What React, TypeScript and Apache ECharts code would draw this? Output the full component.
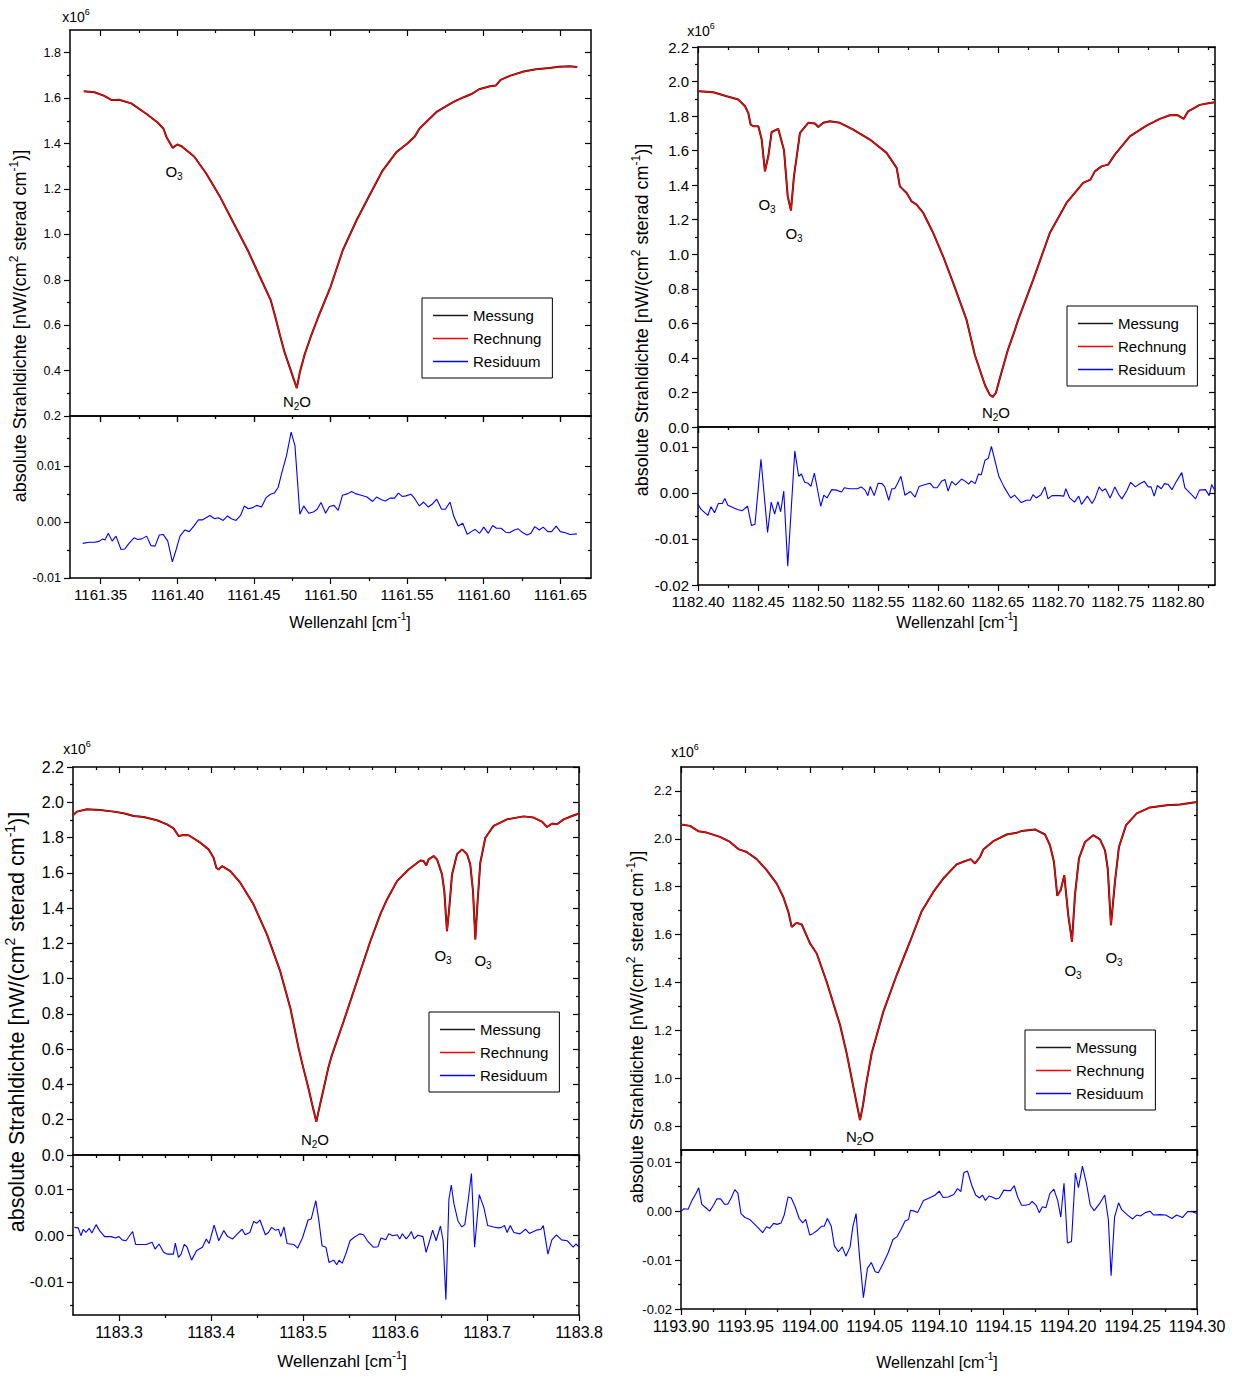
import React, { useEffect, useRef } from "react";
import * as echarts from "echarts";

const FONT = '"Liberation Sans", Arial, Helvetica, sans-serif';

// ---------------- data (x = Wellenzahl, y = value) ----------------
// Panel 1: 1161.33 - 1161.67 cm-1
const p1Spectrum: [number, number][] = [
  [1161.339, 1.630], [1161.346, 1.626], [1161.352, 1.611], [1161.357, 1.592], [1161.360, 1.592],
  [1161.362, 1.593], [1161.370, 1.577], [1161.380, 1.530], [1161.387, 1.494], [1161.391, 1.465],
  [1161.393, 1.428], [1161.397, 1.381], [1161.400, 1.396], [1161.403, 1.387], [1161.411, 1.343],
  [1161.419, 1.267], [1161.428, 1.164], [1161.437, 1.047], [1161.446, 0.930], [1161.454, 0.812],
  [1161.461, 0.710], [1161.464, 0.636], [1161.467, 0.556], [1161.470, 0.481], [1161.474, 0.402],
  [1161.478, 0.323], [1161.480, 0.393], [1161.483, 0.468], [1161.487, 0.547], [1161.492, 0.636],
  [1161.500, 0.768], [1161.508, 0.930], [1161.517, 1.062], [1161.526, 1.179], [1161.534, 1.281],
  [1161.543, 1.362], [1161.550, 1.399], [1161.555, 1.431], [1161.558, 1.465], [1161.569, 1.538],
  [1161.578, 1.575], [1161.582, 1.589], [1161.587, 1.604], [1161.592, 1.618], [1161.597, 1.639],
  [1161.604, 1.652], [1161.608, 1.656], [1161.611, 1.680], [1161.617, 1.698], [1161.626, 1.717],
  [1161.634, 1.727], [1161.643, 1.733], [1161.649, 1.738], [1161.656, 1.740], [1161.661, 1.737],
];
const p1Residual: [number, number][] = [
  [1161.3383, -0.0038], [1161.3425, -0.0036], [1161.3463, -0.0036], [1161.3493, -0.0034], [1161.3513, -0.0030],
  [1161.3528, -0.0032], [1161.3550, -0.0020], [1161.3575, -0.0034], [1161.3600, -0.0025], [1161.3633, -0.0049],
  [1161.3658, -0.0048], [1161.3688, -0.0037], [1161.3718, -0.0028], [1161.3743, -0.0031], [1161.3768, -0.0030],
  [1161.3800, -0.0025], [1161.3828, -0.0042], [1161.3855, -0.0043], [1161.3883, -0.0023], [1161.3908, -0.0022],
  [1161.3938, -0.0034], [1161.3968, -0.0071], [1161.3993, -0.0049], [1161.4018, -0.0025], [1161.4050, -0.0014],
  [1161.4078, -0.0017], [1161.4108, -0.0007], [1161.4138, 0.0004], [1161.4163, 0.0004], [1161.4213, 0.0012],
  [1161.4243, 0.0006], [1161.4268, 0.0008], [1161.4300, 0.0003], [1161.4328, 0.0011], [1161.4353, 0.0006],
  [1161.4383, 0.0003], [1161.4413, 0.0012], [1161.4438, 0.0029], [1161.4463, 0.0024], [1161.4493, 0.0026],
  [1161.4518, 0.0030], [1161.4550, 0.0027], [1161.4580, 0.0044], [1161.4608, 0.0050], [1161.4633, 0.0052],
  [1161.4658, 0.0062], [1161.4683, 0.0089], [1161.4713, 0.0119], [1161.4743, 0.0161], [1161.4768, 0.0137],
  [1161.4800, 0.0014], [1161.4825, 0.0029], [1161.4858, 0.0016], [1161.4888, 0.0018], [1161.4913, 0.0023],
  [1161.4938, 0.0035], [1161.4968, 0.0016], [1161.4993, 0.0028], [1161.5023, 0.0030], [1161.5050, 0.0021],
  [1161.5078, 0.0048], [1161.5113, 0.0051], [1161.5138, 0.0055], [1161.5163, 0.0051], [1161.5200, 0.0048],
  [1161.5238, 0.0045], [1161.5275, 0.0037], [1161.5300, 0.0045], [1161.5333, 0.0040], [1161.5358, 0.0038],
  [1161.5388, 0.0043], [1161.5418, 0.0043], [1161.5443, 0.0052], [1161.5468, 0.0046], [1161.5493, 0.0047],
  [1161.5525, 0.0050], [1161.5550, 0.0042], [1161.5580, 0.0029], [1161.5608, 0.0036], [1161.5638, 0.0027],
  [1161.5663, 0.0032], [1161.5693, 0.0041], [1161.5725, 0.0023], [1161.5750, 0.0023], [1161.5780, 0.0036],
  [1161.5805, 0.0010], [1161.5833, -0.0007], [1161.5863, -0.0002], [1161.5893, -0.0022], [1161.5918, -0.0017],
  [1161.5943, -0.0013], [1161.5973, -0.0020], [1161.6000, -0.0009], [1161.6030, -0.0020], [1161.6058, -0.0006],
  [1161.6083, -0.0011], [1161.6113, -0.0011], [1161.6143, -0.0018], [1161.6168, -0.0019], [1161.6200, -0.0014],
  [1161.6225, -0.0012], [1161.6250, -0.0018], [1161.6283, -0.0023], [1161.6308, -0.0020], [1161.6333, -0.0008],
  [1161.6363, -0.0014], [1161.6388, -0.0009], [1161.6418, -0.0017], [1161.6443, -0.0017], [1161.6473, -0.0007],
  [1161.6500, -0.0017], [1161.6533, -0.0019], [1161.6563, -0.0022], [1161.6608, -0.0021],
];

// Panel 2: 1182.40 - 1182.83 cm-1
const p2Spectrum: [number, number][] = [
  [1182.4003, 1.944], [1182.4128, 1.938], [1182.4239, 1.915], [1182.4336, 1.896], [1182.4392, 1.857],
  [1182.4419, 1.818], [1182.4439, 1.751], [1182.4461, 1.741], [1182.4503, 1.741], [1182.4531, 1.664],
  [1182.4558, 1.480], [1182.4586, 1.567], [1182.4614, 1.708], [1182.4669, 1.726], [1182.4717, 1.602],
  [1182.4748, 1.335], [1182.4775, 1.254], [1182.4800, 1.451], [1182.4850, 1.703], [1182.4919, 1.761],
  [1182.4975, 1.757], [1182.5003, 1.737], [1182.5044, 1.761], [1182.5100, 1.770], [1182.5183, 1.761],
  [1182.5294, 1.722], [1182.5433, 1.664], [1182.5572, 1.587], [1182.5656, 1.500], [1182.5683, 1.393],
  [1182.5739, 1.355], [1182.5781, 1.306], [1182.5822, 1.287], [1182.5878, 1.239], [1182.5961, 1.123],
  [1182.6044, 0.987], [1182.6128, 0.833], [1182.6239, 0.620], [1182.6308, 0.417], [1182.6392, 0.243],
  [1182.6433, 0.186], [1182.6458, 0.174], [1182.6483, 0.197], [1182.6517, 0.284], [1182.6583, 0.446],
  [1182.6642, 0.562], [1182.6669, 0.620], [1182.6794, 0.852], [1182.6933, 1.123], [1182.7072, 1.297],
  [1182.7211, 1.413], [1182.7272, 1.432], [1182.7308, 1.480], [1182.7364, 1.509], [1182.7419, 1.519],
  [1182.7475, 1.577], [1182.7600, 1.683], [1182.7739, 1.745], [1182.7850, 1.784], [1182.7933, 1.805],
  [1182.7994, 1.807], [1182.8050, 1.784], [1182.8086, 1.828], [1182.8183, 1.865], [1182.8267, 1.876],
  [1182.8308, 1.880],
];
const p2Residual: [number, number][] = [
  [1182.4000, -0.0025], [1182.4026, -0.0036], [1182.4082, -0.0049], [1182.4108, -0.0030], [1182.4138, -0.0043],
  [1182.4170, -0.0023], [1182.4203, -0.0023], [1182.4223, -0.0012], [1182.4249, -0.0027], [1182.4328, -0.0036],
  [1182.4367, -0.0039], [1182.4413, -0.0029], [1182.4446, -0.0071], [1182.4475, -0.0068], [1182.4525, 0.0073],
  [1182.4580, -0.0086], [1182.4610, -0.0020], [1182.4639, -0.0046], [1182.4666, -0.0019], [1182.4689, -0.0041],
  [1182.4715, 0.0004], [1182.4748, -0.0159], [1182.4807, 0.0091], [1182.4839, 0.0036], [1182.4862, 0.0041],
  [1182.4889, 0.0023], [1182.4918, 0.0021], [1182.4941, 0.0014], [1182.4970, 0.0043], [1182.5023, -0.0029],
  [1182.5049, -0.0005], [1182.5075, -0.0011], [1182.5115, 0.0007], [1182.5154, 0.0006], [1182.5197, 0.0002],
  [1182.5220, 0.0011], [1182.5262, 0.0009], [1182.5328, 0.0009], [1182.5361, 0.0013], [1182.5393, 0.0006],
  [1182.5416, -0.0006], [1182.5436, 0.0014], [1182.5469, -0.0006], [1182.5502, 0.0021], [1182.5534, 0.0020],
  [1182.5557, 0.0013], [1182.5590, -0.0016], [1182.5616, 0.0009], [1182.5639, 0.0009], [1182.5659, 0.0018],
  [1182.5692, 0.0036], [1182.5725, -0.0005], [1182.5770, 0.0003], [1182.5810, -0.0009], [1182.5843, 0.0014],
  [1182.5895, 0.0018], [1182.5934, 0.0021], [1182.5967, 0.0011], [1182.5993, 0.0011], [1182.6033, 0.0026],
  [1182.6059, 0.0029], [1182.6085, 0.0004], [1182.6115, 0.0025], [1182.6148, 0.0017], [1182.6197, 0.0030],
  [1182.6230, 0.0025], [1182.6256, 0.0019], [1182.6279, 0.0026], [1182.6311, 0.0020], [1182.6338, 0.0041],
  [1182.6361, 0.0039], [1182.6393, 0.0071], [1182.6420, 0.0075], [1182.6446, 0.0101], [1182.6508, 0.0036],
  [1182.6551, 0.0013], [1182.6607, -0.0011], [1182.6639, -0.0005], [1182.6695, -0.0021], [1182.6738, -0.0016],
  [1182.6770, -0.0016], [1182.6793, -0.0004], [1182.6820, -0.0011], [1182.6859, -0.0004], [1182.6892, 0.0013],
  [1182.6918, -0.0013], [1182.6951, -0.0006], [1182.7010, -0.0006], [1182.7049, -0.0007], [1182.7066, 0.0009],
  [1182.7098, -0.0011], [1182.7138, -0.0020], [1182.7174, -0.0007], [1182.7197, -0.0025], [1182.7246, -0.0007],
  [1182.7285, -0.0023], [1182.7311, -0.0011], [1182.7344, 0.0013], [1182.7370, 0.0004], [1182.7397, 0.0009],
  [1182.7436, -0.0011], [1182.7475, 0.0013], [1182.7508, -0.0004], [1182.7534, -0.0013], [1182.7574, 0.0004],
  [1182.7607, 0.0023], [1182.7646, 0.0013], [1182.7672, 0.0018], [1182.7721, 0.0025], [1182.7754, 0.0013],
  [1182.7777, 0.0013], [1182.7803, -0.0007], [1182.7830, 0.0016], [1182.7862, 0.0009], [1182.7889, 0.0020],
  [1182.7921, 0.0018], [1182.7951, 0.0007], [1182.7984, 0.0023], [1182.8033, 0.0044], [1182.8059, 0.0011],
  [1182.8115, -0.0004], [1182.8148, -0.0013], [1182.8180, 0.0006], [1182.8230, 0.0007], [1182.8262, -0.0006],
  [1182.8282, 0.0018], [1182.8311, 0.0004],
];

// Panel 3: 1183.25 - 1183.80 cm-1
const p3Spectrum: [number, number][] = [
  [1183.2500, 1.926], [1183.2543, 1.947], [1183.2652, 1.960], [1183.2797, 1.956], [1183.2941, 1.947],
  [1183.3050, 1.938], [1183.3159, 1.922], [1183.3267, 1.917], [1183.3413, 1.898], [1183.3522, 1.875],
  [1183.3593, 1.852], [1183.3648, 1.809], [1183.3702, 1.814], [1183.3757, 1.813], [1183.3884, 1.771],
  [1183.3974, 1.733], [1183.4028, 1.686], [1183.4058, 1.629], [1183.4083, 1.619], [1183.4120, 1.638],
  [1183.4210, 1.610], [1183.4318, 1.544], [1183.4463, 1.420], [1183.4609, 1.250], [1183.4753, 1.041],
  [1183.4862, 0.834], [1183.4952, 0.606], [1183.5003, 0.494], [1183.5058, 0.381], [1183.5101, 0.284],
  [1183.5145, 0.188], [1183.5177, 0.267], [1183.5221, 0.369], [1183.5275, 0.494], [1183.5315, 0.568],
  [1183.5441, 0.757], [1183.5587, 0.985], [1183.5732, 1.212], [1183.5840, 1.364], [1183.5913, 1.449],
  [1183.6022, 1.553], [1183.6148, 1.619], [1183.6275, 1.670], [1183.6311, 1.667], [1183.6340, 1.642],
  [1183.6365, 1.676], [1183.6420, 1.695], [1183.6457, 1.676], [1183.6511, 1.591], [1183.6536, 1.496],
  [1183.6565, 1.269], [1183.6590, 1.402], [1183.6620, 1.591], [1183.6674, 1.705], [1183.6728, 1.733],
  [1183.6783, 1.705], [1183.6818, 1.648], [1183.6848, 1.496], [1183.6873, 1.222], [1183.6898, 1.439],
  [1183.6927, 1.657], [1183.6982, 1.799], [1183.7072, 1.866], [1183.7217, 1.903], [1183.7398, 1.920],
  [1183.7507, 1.913], [1183.7598, 1.890], [1183.7652, 1.860], [1183.7707, 1.879], [1183.7761, 1.875],
  [1183.7833, 1.903], [1183.7924, 1.922], [1183.8000, 1.936],
];
const p3Residual: [number, number][] = [
  [1183.2515, 0.0018], [1183.2557, 0.0017], [1183.2586, 0.0000], [1183.2612, 0.0014], [1183.2641, 0.0007],
  [1183.2675, 0.0016], [1183.2705, 0.0006], [1183.2751, 0.0024], [1183.2789, 0.0011], [1183.2844, -0.0002],
  [1183.2916, -0.0002], [1183.2962, -0.0005], [1183.3000, -0.0002], [1183.3034, -0.0009], [1183.3076, -0.0011],
  [1183.3148, 0.0009], [1183.3181, -0.0019], [1183.3232, -0.0019], [1183.3295, -0.0019], [1183.3359, -0.0014],
  [1183.3392, -0.0029], [1183.3435, -0.0018], [1183.3485, -0.0036], [1183.3527, -0.0040], [1183.3591, -0.0040],
  [1183.3612, -0.0016], [1183.3646, -0.0047], [1183.3675, -0.0040], [1183.3709, -0.0019], [1183.3738, -0.0024],
  [1183.3789, -0.0053], [1183.3844, -0.0032], [1183.3907, -0.0025], [1183.3949, -0.0007], [1183.3979, -0.0017],
  [1183.4034, 0.0023], [1183.4084, -0.0011], [1183.4139, 0.0011], [1183.4181, -0.0002], [1183.4236, -0.0007],
  [1183.4287, 0.0004], [1183.4338, 0.0014], [1183.4371, 0.0002], [1183.4422, 0.0007], [1183.4464, 0.0031],
  [1183.4498, 0.0027], [1183.4532, 0.0034], [1183.4591, 0.0002], [1183.4624, 0.0007], [1183.4658, 0.0018],
  [1183.4700, 0.0012], [1183.4734, 0.0014], [1183.4759, -0.0002], [1183.4793, 0.0019], [1183.4827, -0.0017],
  [1183.4899, -0.0019], [1183.4941, -0.0027], [1183.4996, -0.0004], [1183.5055, 0.0034], [1183.5089, 0.0036],
  [1183.5139, 0.0076], [1183.5173, 0.0032], [1183.5207, -0.0022], [1183.5249, -0.0025], [1183.5283, -0.0058],
  [1183.5333, -0.0053], [1183.5367, -0.0063], [1183.5392, -0.0053], [1183.5426, -0.0060], [1183.5468, -0.0038],
  [1183.5511, -0.0011], [1183.5553, -0.0004], [1183.5616, 0.0004], [1183.5658, 0.0002], [1183.5700, -0.0011],
  [1183.5764, -0.0025], [1183.5814, -0.0024], [1183.5848, -0.0005], [1183.5899, -0.0009], [1183.5932, 0.0004],
  [1183.5975, 0.0000], [1183.6025, 0.0002], [1183.6051, -0.0007], [1183.6080, 0.0004], [1183.6122, -0.0007],
  [1183.6152, 0.0000], [1183.6177, 0.0009], [1183.6207, -0.0007], [1183.6249, 0.0001], [1183.6304, -0.0002],
  [1183.6338, -0.0036], [1183.6376, -0.0011], [1183.6409, 0.0012], [1183.6447, -0.0011], [1183.6494, 0.0021],
  [1183.6523, -0.0011], [1183.6553, -0.0139], [1183.6586, 0.0079], [1183.6612, 0.0110], [1183.6641, 0.0069],
  [1183.6684, 0.0032], [1183.6726, 0.0019], [1183.6759, 0.0024], [1183.6797, 0.0079], [1183.6831, 0.0135],
  [1183.6865, -0.0025], [1183.6916, 0.0089], [1183.6966, 0.0061], [1183.7008, 0.0022], [1183.7072, 0.0019],
  [1183.7122, 0.0017], [1183.7156, 0.0018], [1183.7190, 0.0022], [1183.7219, 0.0007], [1183.7253, 0.0022],
  [1183.7291, 0.0007], [1183.7359, 0.0004], [1183.7418, 0.0014], [1183.7460, 0.0005], [1183.7536, 0.0012],
  [1183.7586, 0.0014], [1183.7612, 0.0022], [1183.7662, -0.0040], [1183.7705, -0.0009], [1183.7755, 0.0002],
  [1183.7810, -0.0009], [1183.7873, -0.0011], [1183.7937, -0.0025], [1183.7966, -0.0018], [1183.8000, -0.0024],
];

// Panel 4: 1193.90 - 1194.30 cm-1
const p4Spectrum: [number, number][] = [
  [1193.9000, 2.060], [1193.9070, 2.054], [1193.9134, 2.032], [1193.9199, 2.026], [1193.9302, 2.008],
  [1193.9380, 1.987], [1193.9444, 1.957], [1193.9509, 1.945], [1193.9587, 1.915], [1193.9664, 1.869],
  [1193.9742, 1.813], [1193.9793, 1.757], [1193.9832, 1.695], [1193.9858, 1.632], [1193.9897, 1.649],
  [1193.9936, 1.642], [1194.0000, 1.563], [1194.0052, 1.521], [1194.0129, 1.403], [1194.0233, 1.222],
  [1194.0284, 1.104], [1194.0310, 1.034], [1194.0341, 0.950], [1194.0364, 0.888], [1194.0388, 0.825],
  [1194.0411, 0.888], [1194.0434, 0.971], [1194.0478, 1.104], [1194.0568, 1.277], [1194.0672, 1.431],
  [1194.0775, 1.570], [1194.0864, 1.695], [1194.0956, 1.778], [1194.1033, 1.834], [1194.1137, 1.893],
  [1194.1188, 1.904], [1194.1246, 1.915], [1194.1279, 1.897], [1194.1318, 1.924], [1194.1343, 1.955],
  [1194.1421, 1.990], [1194.1525, 2.018], [1194.1602, 2.025], [1194.1641, 2.033], [1194.1744, 2.039],
  [1194.1822, 2.018], [1194.1860, 1.973], [1194.1891, 1.904], [1194.1917, 1.762], [1194.1943, 1.785],
  [1194.1971, 1.848], [1194.2002, 1.681], [1194.2031, 1.570], [1194.2054, 1.765], [1194.2085, 1.918],
  [1194.2132, 1.987], [1194.2196, 2.015], [1194.2248, 1.998], [1194.2287, 1.952], [1194.2308, 1.876],
  [1194.2333, 1.639], [1194.2364, 1.820], [1194.2395, 1.966], [1194.2450, 2.057], [1194.2533, 2.106],
  [1194.2636, 2.131], [1194.2765, 2.140], [1194.2868, 2.143], [1194.3000, 2.154],
];
const p4Residual: [number, number][] = [
  [1193.9000, 0.0000], [1193.9024, 0.0005], [1193.9055, 0.0004], [1193.9085, 0.0022], [1193.9116, 0.0036],
  [1193.9137, 0.0048], [1193.9161, 0.0014], [1193.9192, 0.0007], [1193.9222, 0.0000], [1193.9252, 0.0012],
  [1193.9277, 0.0025], [1193.9307, 0.0025], [1193.9338, 0.0014], [1193.9362, 0.0014], [1193.9389, 0.0027],
  [1193.9417, 0.0044], [1193.9441, 0.0037], [1193.9465, -0.0005], [1193.9496, -0.0013], [1193.9532, -0.0017],
  [1193.9572, -0.0027], [1193.9602, -0.0035], [1193.9633, -0.0044], [1193.9663, -0.0032], [1193.9687, -0.0035],
  [1193.9718, -0.0025], [1193.9745, -0.0027], [1193.9776, -0.0024], [1193.9800, -0.0008], [1193.9830, 0.0029],
  [1193.9855, 0.0027], [1193.9885, 0.0009], [1193.9916, -0.0015], [1193.9943, -0.0024], [1193.9967, -0.0017],
  [1193.9998, -0.0049], [1194.0022, -0.0046], [1194.0059, -0.0039], [1194.0089, -0.0031], [1194.0110, -0.0031],
  [1194.0135, -0.0015], [1194.0165, -0.0031], [1194.0189, -0.0071], [1194.0220, -0.0083], [1194.0250, -0.0073],
  [1194.0278, -0.0092], [1194.0311, -0.0073], [1194.0332, -0.0032], [1194.0357, -0.0005], [1194.0384, -0.0093],
  [1194.0414, -0.0177], [1194.0445, -0.0117], [1194.0475, -0.0105], [1194.0506, -0.0124], [1194.0530, -0.0126],
  [1194.0567, -0.0107], [1194.0606, -0.0085], [1194.0643, -0.0058], [1194.0676, -0.0052], [1194.0706, -0.0037],
  [1194.0737, -0.0020], [1194.0764, -0.0017], [1194.0779, 0.0002], [1194.0810, 0.0000], [1194.0834, -0.0003],
  [1194.0880, 0.0022], [1194.0925, 0.0027], [1194.0971, 0.0033], [1194.1002, 0.0041], [1194.1032, 0.0028],
  [1194.1071, 0.0029], [1194.1114, 0.0034], [1194.1144, 0.0046], [1194.1169, 0.0040], [1194.1193, 0.0079],
  [1194.1221, 0.0082], [1194.1254, 0.0053], [1194.1284, 0.0033], [1194.1315, 0.0027], [1194.1336, 0.0033],
  [1194.1360, 0.0022], [1194.1388, 0.0031], [1194.1412, 0.0029], [1194.1443, 0.0025], [1194.1467, 0.0027],
  [1194.1503, 0.0043], [1194.1534, 0.0042], [1194.1555, 0.0042], [1194.1583, 0.0052], [1194.1610, 0.0029],
  [1194.1640, 0.0012], [1194.1671, 0.0012], [1194.1701, 0.0014], [1194.1722, 0.0020], [1194.1753, 0.0012],
  [1194.1777, -0.0003], [1194.1802, 0.0009], [1194.1829, 0.0007], [1194.1859, 0.0036], [1194.1890, 0.0045],
  [1194.1920, 0.0022], [1194.1944, -0.0012], [1194.1969, 0.0057], [1194.1996, -0.0065], [1194.2027, -0.0062],
  [1194.2057, 0.0078], [1194.2081, 0.0048], [1194.2112, 0.0092], [1194.2142, 0.0058], [1194.2173, 0.0012],
  [1194.2203, 0.0001], [1194.2249, 0.0017], [1194.2285, 0.0033], [1194.2313, -0.0018], [1194.2334, -0.0132],
  [1194.2361, -0.0012], [1194.2392, 0.0017], [1194.2416, 0.0003], [1194.2462, -0.0008], [1194.2501, -0.0016],
  [1194.2532, -0.0008], [1194.2562, -0.0010], [1194.2599, -0.0003], [1194.2635, 0.0000], [1194.2665, -0.0008],
  [1194.2714, -0.0007], [1194.2757, -0.0008], [1194.2805, -0.0015], [1194.2842, -0.0008], [1194.2887, -0.0013],
  [1194.2927, -0.0001], [1194.2963, -0.0001], [1194.3000, -0.0005],
];

// ---------------- ticks ----------------
const p1XTicks = [1161.35, 1161.4, 1161.45, 1161.5, 1161.55, 1161.6, 1161.65];
const p1XMinor = [1161.375, 1161.425, 1161.475, 1161.525, 1161.575, 1161.625];
const p1YTicks = [0.2, 0.4, 0.6, 0.8, 1.0, 1.2, 1.4, 1.6, 1.8];
const p1YMinor = [0.3, 0.5, 0.7, 0.9, 1.1, 1.3, 1.5, 1.7];
const p1RTicks = [-0.01, 0, 0.01];
const p1RMinor = [-0.005, 0.005, 0.015];

const p2XTicks = [1182.4, 1182.45, 1182.5, 1182.55, 1182.6, 1182.65, 1182.7, 1182.75, 1182.8];
const p2XMinor = [1182.425, 1182.475, 1182.525, 1182.575, 1182.625, 1182.675, 1182.725, 1182.775, 1182.825];
const p2YTicks = [0, 0.2, 0.4, 0.6, 0.8, 1.0, 1.2, 1.4, 1.6, 1.8, 2.0, 2.2];
const p2YMinor = [0.1, 0.3, 0.5, 0.7, 0.9, 1.1, 1.3, 1.5, 1.7, 1.9, 2.1];
const p2RTicks = [-0.02, -0.01, 0, 0.01];
const p2RMinor = [-0.015, -0.005, 0.005];

const p3XTicks = [1183.3, 1183.4, 1183.5, 1183.6, 1183.7, 1183.8];
const p3XMinorTop = [1183.275, 1183.325, 1183.35, 1183.375, 1183.425, 1183.45, 1183.475, 1183.525, 1183.55,
  1183.575, 1183.625, 1183.65, 1183.675, 1183.725, 1183.75, 1183.775];
const p3XMinorBottom = [1183.35, 1183.45, 1183.55, 1183.65, 1183.75];
const p3YTicks = [0, 0.2, 0.4, 0.6, 0.8, 1.0, 1.2, 1.4, 1.6, 1.8, 2.0, 2.2];
const p3YMinor = [0.1, 0.3, 0.5, 0.7, 0.9, 1.1, 1.3, 1.5, 1.7, 1.9, 2.1];
const p3RTicks = [-0.01, 0, 0.01];
const p3RMinor = [-0.015, -0.005, 0.005, 0.015];

const p4XTicks = [1193.9, 1193.95, 1194.0, 1194.05, 1194.1, 1194.15, 1194.2, 1194.25, 1194.3];
const p4XMinor = [1193.925, 1193.975, 1194.025, 1194.075, 1194.125, 1194.175, 1194.225, 1194.275];
const p4YTicks = [0.8, 1.0, 1.2, 1.4, 1.6, 1.8, 2.0, 2.2];
const p4YMinor = [0.9, 1.1, 1.3, 1.5, 1.7, 1.9, 2.1];
const p4RTicks = [-0.02, -0.01, 0, 0.01];
const p4RMinor = [-0.015, -0.005, 0.005];

const LEGEND_NAMES = ["Messung", "Rechnung", "Residuum"];

// ---------------- layout / styles ----------------
type Rect = { left: number; top: number; width: number; height: number };
type Note = { x: number; y: number; text: string; size: number; rot?: boolean };
interface Panel {
  upper: Rect; lower: Rect;
  xRange: [number, number]; xTicks: number[]; xMinorTop: number[]; xMinorBottom: number[]; xDigits: number; xFont: number;
  yRange: [number, number]; yTicks: number[]; yMinor: number[]; yFont: number;
  rRange: [number, number]; rTicks: number[]; rMinor: number[]; rFont: number;
  spectrum: [number, number][]; residual: [number, number][];
  legend: { left: number; top: number };
  notes: Note[];
}

const YTITLE = "{n|absolute Strahldichte [nW/(cm}{sup|2}{n| sterad cm}{sup|-1}{n|)]}";
const XTITLE = "{n|Wellenzahl [cm}{sup|-1}{n|]}";
const O3 = "{n|O}{sub|3}";
const N2O = "{n|N}{sub|2}{n|O}";
const X106 = "{n|x10}{sup|6}";

const panels: Panel[] = [
  {
    upper: { left: 70, top: 30, width: 521, height: 386 },
    lower: { left: 70, top: 416, width: 521, height: 162 },
    xRange: [1161.33, 1161.67], xTicks: p1XTicks, xMinorTop: p1XMinor, xMinorBottom: p1XMinor, xDigits: 2, xFont: 15,
    yRange: [0.2, 1.9], yTicks: p1YTicks, yMinor: p1YMinor, yFont: 12.5,
    rRange: [-0.01, 0.019], rTicks: p1RTicks, rMinor: p1RMinor, rFont: 12.5,
    spectrum: p1Spectrum, residual: p1Residual,
    legend: { left: 422, top: 298 },
    notes: [
      { x: 76, y: 17, text: X106, size: 14 },
      { x: 174, y: 171, text: O3, size: 15 },
      { x: 297, y: 401, text: N2O, size: 15 },
      { x: 20, y: 326, text: YTITLE, size: 18, rot: true },
      { x: 350, y: 622, text: XTITLE, size: 16 },
    ],
  },
  {
    upper: { left: 698, top: 47, width: 517, height: 380 },
    lower: { left: 698, top: 427, width: 517, height: 158 },
    xRange: [1182.4, 1182.831], xTicks: p2XTicks, xMinorTop: p2XMinor, xMinorBottom: p2XMinor, xDigits: 2, xFont: 15,
    yRange: [0, 2.2], yTicks: p2YTicks, yMinor: p2YMinor, yFont: 15,
    rRange: [-0.02, 0.0143], rTicks: p2RTicks, rMinor: p2RMinor, rFont: 15,
    spectrum: p2Spectrum, residual: p2Residual,
    legend: { left: 1067, top: 306 },
    notes: [
      { x: 701, y: 31, text: X106, size: 14 },
      { x: 767, y: 204, text: O3, size: 15 },
      { x: 794, y: 233, text: O3, size: 15 },
      { x: 996, y: 412, text: N2O, size: 15 },
      { x: 642, y: 320, text: YTITLE, size: 18, rot: true },
      { x: 957, y: 622, text: XTITLE, size: 16 },
    ],
  },
  {
    upper: { left: 73, top: 767, width: 506, height: 388 },
    lower: { left: 73, top: 1155, width: 506, height: 160 },
    xRange: [1183.25, 1183.8], xTicks: p3XTicks, xMinorTop: p3XMinorTop, xMinorBottom: p3XMinorBottom, xDigits: 1, xFont: 16,
    yRange: [0, 2.2], yTicks: p3YTicks, yMinor: p3YMinor, yFont: 16,
    rRange: [-0.0172, 0.0175], rTicks: p3RTicks, rMinor: p3RMinor, rFont: 15,
    spectrum: p3Spectrum, residual: p3Residual,
    legend: { left: 429, top: 1012 },
    notes: [
      { x: 77, y: 749, text: X106, size: 14 },
      { x: 443, y: 955, text: O3, size: 15 },
      { x: 483, y: 960, text: O3, size: 15 },
      { x: 315, y: 1139, text: N2O, size: 15 },
      { x: 17, y: 1022, text: YTITLE, size: 21.5, rot: true },
      { x: 342, y: 1361, text: XTITLE, size: 17 },
    ],
  },
  {
    upper: { left: 681, top: 767, width: 516, height: 383 },
    lower: { left: 681, top: 1150, width: 516, height: 159 },
    xRange: [1193.9, 1194.3], xTicks: p4XTicks, xMinorTop: p4XMinor, xMinorBottom: p4XMinor, xDigits: 2, xFont: 16,
    yRange: [0.7, 2.3], yTicks: p4YTicks, yMinor: p4YMinor, yFont: 13,
    rRange: [-0.02, 0.0125], rTicks: p4RTicks, rMinor: p4RMinor, rFont: 13,
    spectrum: p4Spectrum, residual: p4Residual,
    legend: { left: 1025, top: 1030 },
    notes: [
      { x: 685, y: 752, text: X106, size: 14 },
      { x: 1073, y: 970, text: O3, size: 15 },
      { x: 1114, y: 957, text: O3, size: 15 },
      { x: 860, y: 1136, text: N2O, size: 15 },
      { x: 637, y: 1027, text: YTITLE, size: 18, rot: true },
      { x: 937, y: 1362, text: XTITLE, size: 16 },
    ],
  },
];

function richFor(size: number) {
  const small = Math.round(size * 0.64);
  return {
    n: { fontSize: size, fontFamily: FONT, lineHeight: size + 6, fill: "#000" },
    sub: { fontSize: small, fontFamily: FONT, lineHeight: 2, verticalAlign: "bottom", fill: "#000" },
    sup: { fontSize: small, fontFamily: FONT, lineHeight: 8, verticalAlign: "top", fill: "#000" },
  };
}

function axisSet(list: any[], dim: "x" | "y", gridIndex: number, range: [number, number],
  major: number[], minorTop: number[], minorBottom: number[], label: any) {
  const posMain = dim === "x" ? "bottom" : "left";
  const posOpp = dim === "x" ? "top" : "right";
  const make = (position: string, ticks: number[], length: number, inside: boolean, line: boolean, lab: any) => ({
    type: "value", gridIndex, position, min: range[0], max: range[1],
    axisLine: { show: line, onZero: false, lineStyle: { color: "#000", width: 1.5 } },
    axisTick: { show: true, inside, length, customValues: ticks, lineStyle: { color: "#000", width: 1.2 } },
    axisLabel: lab ? lab : { show: false },
    splitLine: { show: false },
    minorTick: { show: false },
    minorSplitLine: { show: false },
    axisPointer: { show: false },
    silent: true,
  });
  const idx = list.length;
  list.push(make(posMain, major, 6, false, true, label));
  list.push(make(posMain, minorBottom, 3, false, false, null));
  list.push(make(posOpp, major, 6, true, true, null));
  list.push(make(posOpp, minorTop, 3, true, false, null));
  return idx;
}

function buildOption() {
  const grid: any[] = [];
  const xAxis: any[] = [];
  const yAxis: any[] = [];
  const series: any[] = [];
  const legend: any[] = [];
  const elements: any[] = [];

  panels.forEach((p) => {
    const gU = grid.length;
    grid.push({ ...p.upper, containLabel: false });
    const gL = grid.length;
    grid.push({ ...p.lower, containLabel: false });

    const xLab = {
      show: true, customValues: p.xTicks, margin: 9, color: "#000", fontFamily: FONT, fontSize: p.xFont,
      formatter: (v: number) => v.toFixed(p.xDigits),
    };
    const yLab = {
      show: true, customValues: p.yTicks, margin: 9, color: "#000", fontFamily: FONT, fontSize: p.yFont,
      formatter: (v: number) => v.toFixed(1),
    };
    const rLab = {
      show: true, customValues: p.rTicks, margin: 9, color: "#000", fontFamily: FONT, fontSize: p.rFont,
      formatter: (v: number) => (Math.abs(v) < 1e-9 ? "0.00" : v.toFixed(2)),
    };

    const xU = axisSet(xAxis, "x", gU, p.xRange, p.xTicks, p.xMinorTop, p.xMinorTop, null);
    const yU = axisSet(yAxis, "y", gU, p.yRange, p.yTicks, p.yMinor, p.yMinor, yLab);
    const xL = axisSet(xAxis, "x", gL, p.xRange, p.xTicks, p.xMinorBottom, p.xMinorBottom, xLab);
    const yL = axisSet(yAxis, "y", gL, p.rRange, p.rTicks, p.rMinor, p.rMinor, rLab);

    series.push({
      type: "line", name: "Messung", xAxisIndex: xU, yAxisIndex: yU, data: p.spectrum,
      symbol: "none", silent: true, lineStyle: { color: "#1a1a1a", width: 2 }, itemStyle: { color: "#1a1a1a" }, z: 2,
    });
    series.push({
      type: "line", name: "Rechnung", xAxisIndex: xU, yAxisIndex: yU, data: p.spectrum,
      symbol: "none", silent: true, lineStyle: { color: "#ff0000", width: 1.3 }, itemStyle: { color: "#ff0000" }, z: 3,
    });
    series.push({
      type: "line", name: "Residuum", xAxisIndex: xL, yAxisIndex: yL, data: p.residual,
      symbol: "none", silent: true, lineStyle: { color: "#0000ff", width: 1.1 }, itemStyle: { color: "#0000ff" }, z: 3,
    });

    legend.push({
      show: true, orient: "vertical", left: p.legend.left, top: p.legend.top, data: LEGEND_NAMES,
      selectedMode: false, borderColor: "#000", borderWidth: 1, borderRadius: 0, backgroundColor: "#fff",
      padding: [10, 11, 9, 11], icon: "rect", itemWidth: 35, itemHeight: 1.3, itemGap: 8,
      textStyle: { fontSize: 15, fontFamily: FONT, color: "#000" },
    });

    p.notes.forEach((n) => {
      elements.push({
        type: "text", x: n.x, y: n.y, rotation: n.rot ? Math.PI / 2 : 0, silent: true, z: 100,
        style: {
          text: n.text, rich: richFor(n.size), align: "center", verticalAlign: "middle",
          fontFamily: FONT, fontSize: n.size, fill: "#000",
        },
      });
    });
  });

  return {
    animation: false,
    backgroundColor: "#fff",
    grid, xAxis, yAxis, series, legend,
    graphic: { elements },
  };
}

export default function App() {
  const ref = useRef<HTMLDivElement>(null);
  useEffect(() => {
    if (!ref.current) return;
    const chart = echarts.init(ref.current, null, { renderer: "svg" });
    chart.setOption(buildOption() as any);
    return () => chart.dispose();
  }, []);
  return (
    <div
      ref={ref}
      style={{ position: "absolute", left: 0, top: 0, width: 1235, height: 1376, background: "#fff" }}
    />
  );
}
